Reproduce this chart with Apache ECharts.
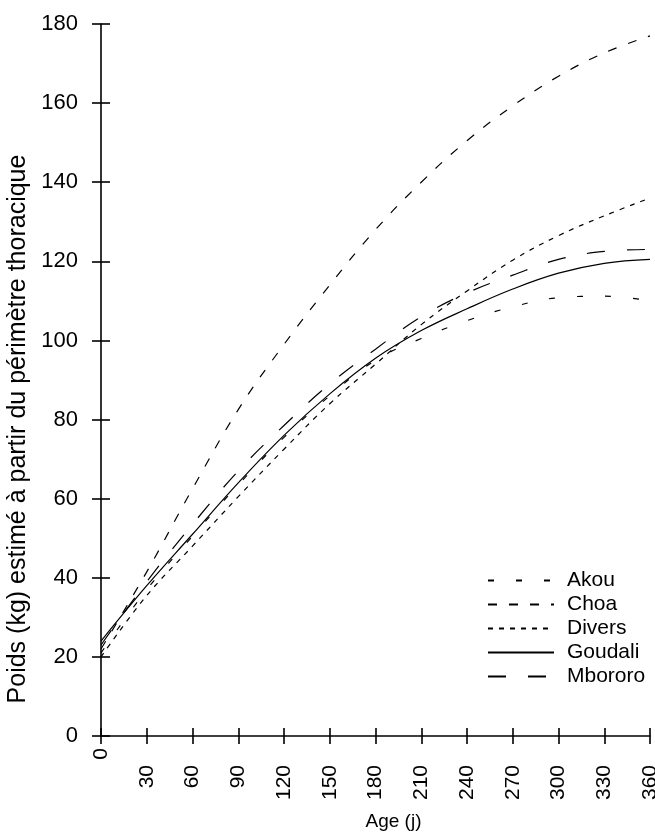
<!DOCTYPE html>
<html><head><meta charset="utf-8">
<script src="https://cdn.jsdelivr.net/npm/echarts@6/dist/echarts.min.js"></script>
<style>html,body{margin:0;padding:0;background:#fff}#c{width:655px;height:835px}</style>
</head><body><div id="c"></div>
<script>
const ages    = [0, 30, 60, 90, 120, 150, 180, 210, 240, 270, 300, 330, 360];
const akou    = [21, 37, 50.5, 63.5, 75.5, 86, 95, 100.5, 105, 108.5, 110.8, 111.2, 110];
const choa    = [22, 41.5, 62.5, 82.5, 99, 114, 128, 140, 150.5, 159.3, 166.8, 172.7, 177];
const divers  = [20, 35.5, 48, 60.5, 72.5, 84, 94, 104, 112.5, 120.3, 126.5, 131.5, 136];
const goudali = [24, 38, 51, 64, 76, 86.5, 95.5, 102.5, 108, 113, 117, 119.5, 120.5];
const mbororo = [23, 39, 53.5, 67, 78.5, 89, 97.8, 106, 112, 116.5, 120.5, 122.5, 123];
const seriesNames = ['Akou', 'Choa', 'Divers', 'Goudali', 'Mbororo'];

const FONT = '"Liberation Sans", Arial, sans-serif';
const pairs = v => ages.map((a, i) => [a, v[i]]);
const values = [akou, choa, divers, goudali, mbororo];
const dashes = [[6, 22], [9, 12], [5, 6], 'solid', [18, 22]];

const chart = echarts.init(document.getElementById('c'), null, {renderer: 'canvas'});
const axisLineStyle = {color: '#000', width: 1.6};
chart.setOption({
  animation: false,
  backgroundColor: '#fff',
  grid: {left: 101, right: 5, top: 24, bottom: 99, containLabel: false, outerBoundsMode: 'none'},
  xAxis: [{
    type: 'value', min: 0, max: 360, interval: 30,
    axisLine: {show: true, lineStyle: axisLineStyle},
    axisTick: {show: true, length: 8, lineStyle: axisLineStyle},
    splitLine: {show: false},
    axisLabel: {
      rotate: 90, margin: 12, fontFamily: FONT, fontSize: 21, color: '#000',
      formatter: v => v === 0 ? '{z|0}' : '{n|' + v + '}',
      rich: {z: {fontFamily: FONT, fontSize: 21, color: '#000'},
             n: {fontFamily: FONT, fontSize: 21, color: '#000', padding: [0, 17, 0, 0]}}
    },
    name: 'Age (j)', nameLocation: 'middle', nameGap: 76,
    nameTextStyle: {fontFamily: FONT, fontSize: 19, color: '#000', padding: [0, 0, 0, 36]}
  }, {
    type: 'value', min: 0, max: 360, interval: 30, position: 'bottom',
    axisLine: {show: false},
    axisTick: {show: true, inside: true, length: 8, lineStyle: axisLineStyle},
    axisLabel: {show: false}, splitLine: {show: false}
  }],
  yAxis: [{
    type: 'value', min: 0, max: 180, interval: 20,
    axisLine: {show: true, lineStyle: axisLineStyle},
    axisTick: {show: true, length: 9, lineStyle: axisLineStyle},
    splitLine: {show: false},
    axisLabel: {margin: 23, fontFamily: FONT, fontSize: 22, color: '#000'},
    name: 'Poids (kg) estimé à partir du périmètre thoracique',
    nameLocation: 'middle', nameGap: 70,
    nameTextStyle: {fontFamily: FONT, fontSize: 25, color: '#000', padding: [0, 98, 0, 0]}
  }, {
    type: 'value', min: 0, max: 180, interval: 20, position: 'left',
    axisLine: {show: false},
    axisTick: {show: true, inside: true, length: 9, lineStyle: axisLineStyle},
    axisLabel: {show: false}, splitLine: {show: false}
  }],
  legend: {
    orient: 'vertical', left: 482, top: 565,
    itemWidth: 66, itemHeight: 14, itemGap: 3,
    data: seriesNames,
    itemStyle: {opacity: 0},
    textStyle: {fontFamily: FONT, fontSize: 21, color: '#000', lineHeight: 20, padding: [0, 0, 0, 8]}
  },
  series: seriesNames.map((n, i) => ({
    name: n, type: 'line', xAxisIndex: 0, yAxisIndex: 0,
    data: pairs(values[i]), smooth: 0.4, symbol: 'none',
    lineStyle: {color: '#000', width: 1.2, type: dashes[i]},
    itemStyle: {color: '#000'}
  }))
});
</script></body></html>
